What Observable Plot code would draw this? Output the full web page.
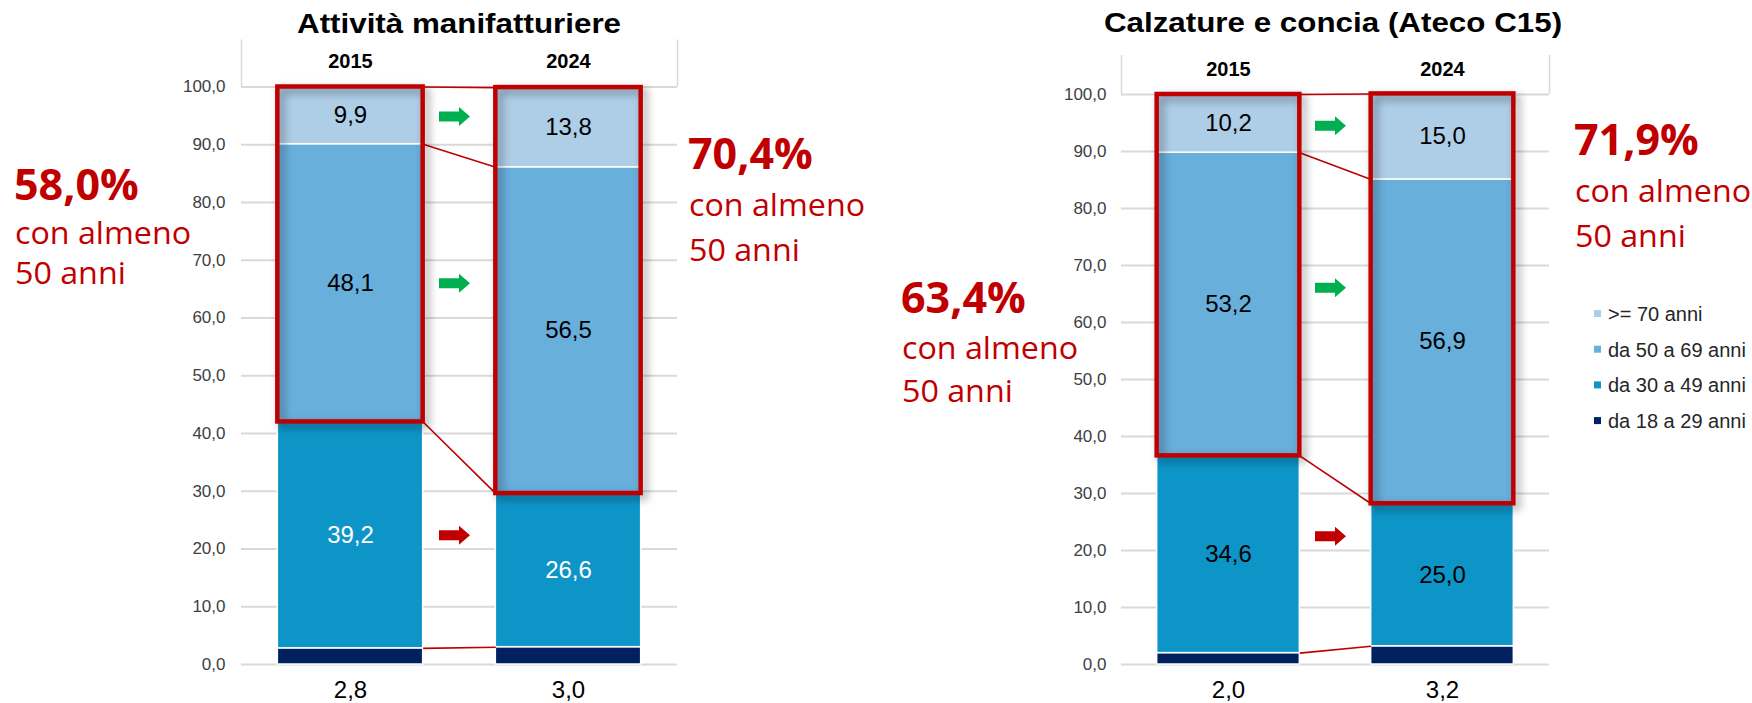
<!DOCTYPE html>
<html><head><meta charset="utf-8">
<script src="https://cdn.jsdelivr.net/npm/d3@7"></script>
<script src="https://cdn.jsdelivr.net/npm/@observablehq/plot@0.6"></script>
<style>
html,body{margin:0;padding:0;background:#fff;}
#root{position:relative;width:1752px;height:703px;overflow:hidden;}
#root > svg{position:absolute;top:0;}
</style></head><body><div id="root"></div>
<script>
// ---------- data ----------
const years = ["2015", "2024"];
const ageGroups = ["da 18 a 29 anni", "da 30 a 49 anni", "da 50 a 69 anni", ">= 70 anni"];
const ageColors = ["#002060", "#0E95C8", "#69AFDC", "#AECDE7"];
const manifValues2015 = [2.8, 39.2, 48.1, 9.9];
const manifValues2024 = [3.0, 26.6, 56.5, 13.8];
const calzValues2015 = [2.0, 34.6, 53.2, 10.2];
const calzValues2024 = [3.2, 25.0, 56.9, 15.0];
const manifOver50 = ["58,0%", "70,4%"];
const calzOver50 = ["63,4%", "71,9%"];
// arrow levels, top to bottom: >= 70, 50-69, 30-49
const manifArrowLevels = [94.9, 66.0, 22.4];
const calzArrowLevels = [94.5, 66.1, 22.5];
const yTicks = [0, 10, 20, 30, 40, 50, 60, 70, 80, 90, 100];
const manifTitle = "Attività manifatturiere";
const calzTitle = "Calzature e concia (Ateco C15)";
const noteLines = ["con almeno", "50 anni"];

const fmt = d => d3.format(".1f")(d).replace(".", ",");
const RED = "#C00000", GREEN = "#00B050";

const blockArrow = {
  draw(ctx, size) {
    const s = Math.sqrt(size / Math.PI) / 10;
    const L = -15.5 * s, hx = 4.5 * s, R = 15.5 * s, hh = 9.5 * s, sh = 5 * s;
    ctx.moveTo(L, -sh); ctx.lineTo(hx, -sh); ctx.lineTo(hx, -hh); ctx.lineTo(R, 0);
    ctx.lineTo(hx, hh); ctx.lineTo(hx, sh); ctx.lineTo(L, sh); ctx.closePath();
  }
};

function panel(cfg) {
  const rows = [];
  cfg.values.forEach((vals, i) => {
    let c = 0;
    vals.forEach((v, j) => { rows.push({i, j, value: v, y1: c, y2: c + v, color: ageColors[j]}); c += v; });
  });
  const cx = i => i + 0.5, hw = 1 / 3;
  const cums = cfg.values.map(v => Array.from(d3.cumsum(v)));
  const connectors = [0, 1, 2, 3].map(k => ({y1: cums[0][k], y2: cums[1][k]}));
  const boxes = cfg.values.map((v, i) => ({i, lo: v[0] + v[1], hi: d3.sum(v)}));
  const arrows = cfg.arrowLevels.map((y, k) => {
    const j = 3 - k;
    return {y, color: cfg.values[1][j] > cfg.values[0][j] ? GREEN : RED};
  });
  const pxPerUnit = (703 - cfg.mt - cfg.mb) / 100;
  const svg = Plot.plot({
    width: 876, height: 703,
    marginLeft: cfg.ml, marginRight: cfg.mr, marginTop: cfg.mt, marginBottom: cfg.mb,
    x: {domain: [0, 2], axis: null},
    y: {domain: [0, 100]},
    color: {type: "identity"},
    style: {fontFamily: "'Liberation Sans', Arial, sans-serif", background: "transparent", overflow: "visible"},
    marks: [
      Plot.gridY(yTicks, {stroke: "#D9D9D9", strokeOpacity: 1, strokeWidth: 2}),
      Plot.ruleX([0, 2], {x: d => d, y1: () => 100, y2: () => 100 + cfg.headerPx / pxPerUnit, stroke: "#D9D9D9", strokeWidth: 1.5}),
      Plot.axisY(yTicks, {tickFormat: fmt, tickSize: 0, tickPadding: cfg.tickPad, fontSize: 17, color: "#404040"}),
      Plot.rect(rows, {x1: d => cx(d.i) - hw, x2: d => cx(d.i) + hw, y1: "y1", y2: "y2", fill: "color", stroke: "white", strokeWidth: 1.5}),
      Plot.link(connectors, {x1: () => cx(0) + hw, x2: () => cx(1) - hw, y1: "y1", y2: "y2", stroke: RED, strokeWidth: 1.6}),
      Plot.rect(boxes, {x1: d => cx(d.i) - hw, x2: d => cx(d.i) + hw, y1: "lo", y2: "hi", fill: "none", stroke: RED, strokeWidth: 4.5}),
      Plot.text(rows.filter(d => d.j > 0), {x: d => cx(d.i), y: d => (d.y1 + d.y2) / 2, text: d => fmt(d.value), fill: d => cfg.labelFill[d.j], fontSize: 24}),
      Plot.text(rows.filter(d => d.j === 0), {x: d => cx(d.i), y: () => 0, dy: 26, text: d => fmt(d.value), fill: () => "#000", fontSize: 24}),
      Plot.text(years, {x: (d, i) => cx(i), y: () => 100, dy: -25, text: d => d, fill: () => "#000", fontSize: 20, fontWeight: "bold"}),
      Plot.dot(arrows, {x: () => 1, y: "y", symbol: blockArrow, r: 10, fill: "color", stroke: null, dx: -5})
    ]
  });
  svg.style.left = cfg.left + "px";
  d3.select(svg).selectAll('g[stroke-width="4.5"]').style("filter", "drop-shadow(4px 4px 4px rgba(0,0,0,0.4))");
  return svg;
}

const root = document.getElementById("root");
root.appendChild(panel({
  values: [manifValues2015, manifValues2024], arrowLevels: manifArrowLevels,
  left: 0, ml: 241, mr: 199, mt: 86.5, mb: 39, headerPx: 47, tickPad: 16,
  labelFill: ["#000", "#fff", "#000", "#000"]
}));
root.appendChild(panel({
  values: [calzValues2015, calzValues2024], arrowLevels: calzArrowLevels,
  left: 876, ml: 245, mr: 203, mt: 94, mb: 39, headerPx: 39, tickPad: 15,
  labelFill: ["#000", "#000", "#000", "#000"]
}));

// ---------- overlay: titles, annotations, legend ----------
const ov = d3.create("svg").attr("width", 1752).attr("height", 703)
  .style("left", "0px").style("font-family", "'Liberation Sans', Arial, sans-serif");
[[manifTitle, 459, 33], [calzTitle, 1333, 32]].forEach(([t, x, y]) => {
  ov.append("text").attr("transform", `translate(${x},${y}) scale(1.12,1)`).attr("text-anchor", "middle")
    .attr("font-size", 28).attr("font-weight", "bold").attr("fill", "#000").text(t);
});
const notes = [
  [manifOver50[0], 14, [200, 244, 284]],
  [manifOver50[1], 688, [169, 216, 261]],
  [calzOver50[0], 901, [313, 359, 402]],
  [calzOver50[1], 1574, [155, 202, 247]]
];
notes.forEach(([pct, x, bl]) => {
  ov.append("text").attr("x", x).attr("y", bl[0]).attr("font-family", "'Open Sans', sans-serif")
    .attr("font-size", 43).attr("font-weight", "bold").attr("fill", RED).text(pct);
  noteLines.forEach((t, k) => {
    ov.append("text").attr("transform", `translate(${x + 1},${bl[k + 1]}) scale(1.04,1)`).attr("font-family", "'Open Sans', sans-serif")
      .attr("font-size", 31).attr("fill", RED).text(t);
  });
});
const legendOrder = [3, 2, 1, 0];
legendOrder.forEach((j, k) => {
  const base = 321 + k * 35.7;
  ov.append("rect").attr("x", 1594).attr("y", base - 11).attr("width", 7).attr("height", 7).attr("fill", ageColors[j]);
  ov.append("text").attr("x", 1608).attr("y", base).attr("font-size", 20).attr("fill", "#262626").text(ageGroups[j]);
});
root.appendChild(ov.node());
</script></body></html>
